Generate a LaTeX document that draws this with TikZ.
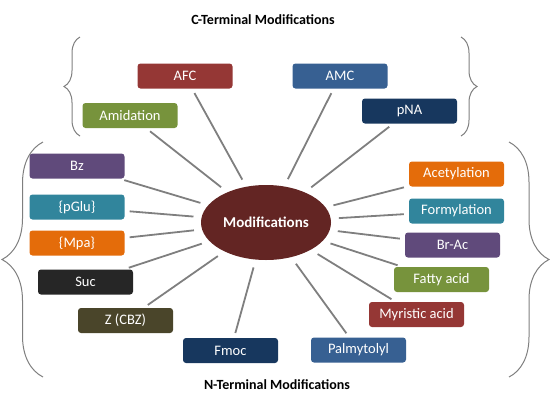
\documentclass[tikz,border=0pt]{standalone}
\usepackage{fontspec}
\setmainfont{Carlito}
\usetikzlibrary{shapes.geometric,decorations.pathreplacing}

\definecolor{modred}{HTML}{953735}
\definecolor{modblue}{HTML}{376092}
\definecolor{modnavy}{HTML}{17375E}
\definecolor{modgreen}{HTML}{77933C}
\definecolor{modpurple}{HTML}{604A7B}
\definecolor{modteal}{HTML}{31859C}
\definecolor{modorange}{HTML}{E46C0A}
\definecolor{modblack}{HTML}{262626}
\definecolor{modolive}{HTML}{4A452A}
\definecolor{modcore}{HTML}{632523}
\definecolor{spokegray}{HTML}{7F7F7F}

\tikzset{
  modbox/.style={rectangle, rounded corners=3pt, minimum width=95pt, minimum height=25pt,
    text=white, inner sep=0pt, font=\fontsize{14.5}{16}\selectfont},
  spoke/.style={draw=spokegray, line width=1.8pt, shorten <=5pt, shorten >=8pt},
  bracket/.style={draw=spokegray, line width=1pt, decorate},
  heading/.style={font=\fontsize{14}{16}\selectfont\bfseries}
}

\begin{document}
\begin{tikzpicture}[x=1pt, y=-1pt]
    \useasboundingbox (0,0) rectangle (552,400);

    % Headings
    \node[heading] (cterm) at (263,20) {C-Terminal Modifications};
    \node[heading] (nterm) at (277,385) {N-Terminal Modifications};

    % Centre
    \node[ellipse, fill=modcore, minimum width=130pt, minimum height=75pt, text=white,
      inner sep=0pt, font=\fontsize{15}{17}\selectfont\bfseries] (mod) at (266,222.5) {Modifications};

    % C-terminal boxes
    \node[modbox, fill=modred] (afc) at (185,76) {AFC};
    \node[modbox, fill=modblue] (amc) at (340,76) {AMC};
    \node[modbox, fill=modgreen] (amid) at (130,115.5) {Amidation};
    \node[modbox, fill=modnavy] (pna) at (409.5,111) {pNA};

    % N-terminal boxes, left side
    \node[modbox, fill=modpurple] (bz) at (77,166) {Bz};
    \node[modbox, fill=modteal] (pglu) at (77,207) {\{pGlu\}};
    \node[modbox, fill=modorange] (mpa) at (77,243) {\{Mpa\}};
    \node[modbox, fill=modblack] (suc) at (85.5,282) {Suc};
    \node[modbox, fill=modolive] (cbz) at (125.5,320.5) {Z (CBZ)};
    \node[modbox, fill=modnavy] (fmoc) at (230.5,350.5) {Fmoc};

    % N-terminal boxes, right side
    \node[modbox, fill=modblue] (palm) at (358.5,350) {Palmytolyl};
    \node[modbox, fill=modred] (myr) at (416.5,314.5) {Myristic acid};
    \node[modbox, fill=modgreen] (fatty) at (441.5,279.5) {Fatty acid};
    \node[modbox, fill=modpurple] (brac) at (452.5,245) {Br-Ac};
    \node[modbox, fill=modteal] (form) at (456.5,211) {Formylation};
    \node[modbox, fill=modorange] (acet) at (456.5,174) {Acetylation};

    % Spokes
    \draw[spoke] (afc) -- (mod);
    \draw[spoke] (amc) -- (mod);
    \draw[spoke] (amid) -- (mod);
    \draw[spoke] (pna) -- (mod);
    \draw[spoke] (bz) -- (mod);
    \draw[spoke] (pglu) -- (mod);
    \draw[spoke] (mpa) -- (mod);
    \draw[spoke] (suc) -- (mod);
    \draw[spoke] (cbz) -- (mod);
    \draw[spoke] (fmoc) -- (mod);
    \draw[spoke] (palm) -- (mod);
    \draw[spoke] (myr) -- (mod);
    \draw[spoke] (fatty) -- (mod);
    \draw[spoke] (brac) -- (mod);
    \draw[spoke] (form) -- (mod);
    \draw[spoke] (acet) -- (mod);

    % Braces
    \draw[bracket, decoration={brace, amplitude=16pt}] (80,136) -- (80,37);
    \draw[bracket, decoration={brace, amplitude=16pt}] (461,37) -- (461,136);
    \draw[bracket, decoration={brace, amplitude=41pt}] (43,377) -- (43,142);
    \draw[bracket, decoration={brace, amplitude=40pt}] (509,142) -- (509,377);
\end{tikzpicture}
\end{document}
